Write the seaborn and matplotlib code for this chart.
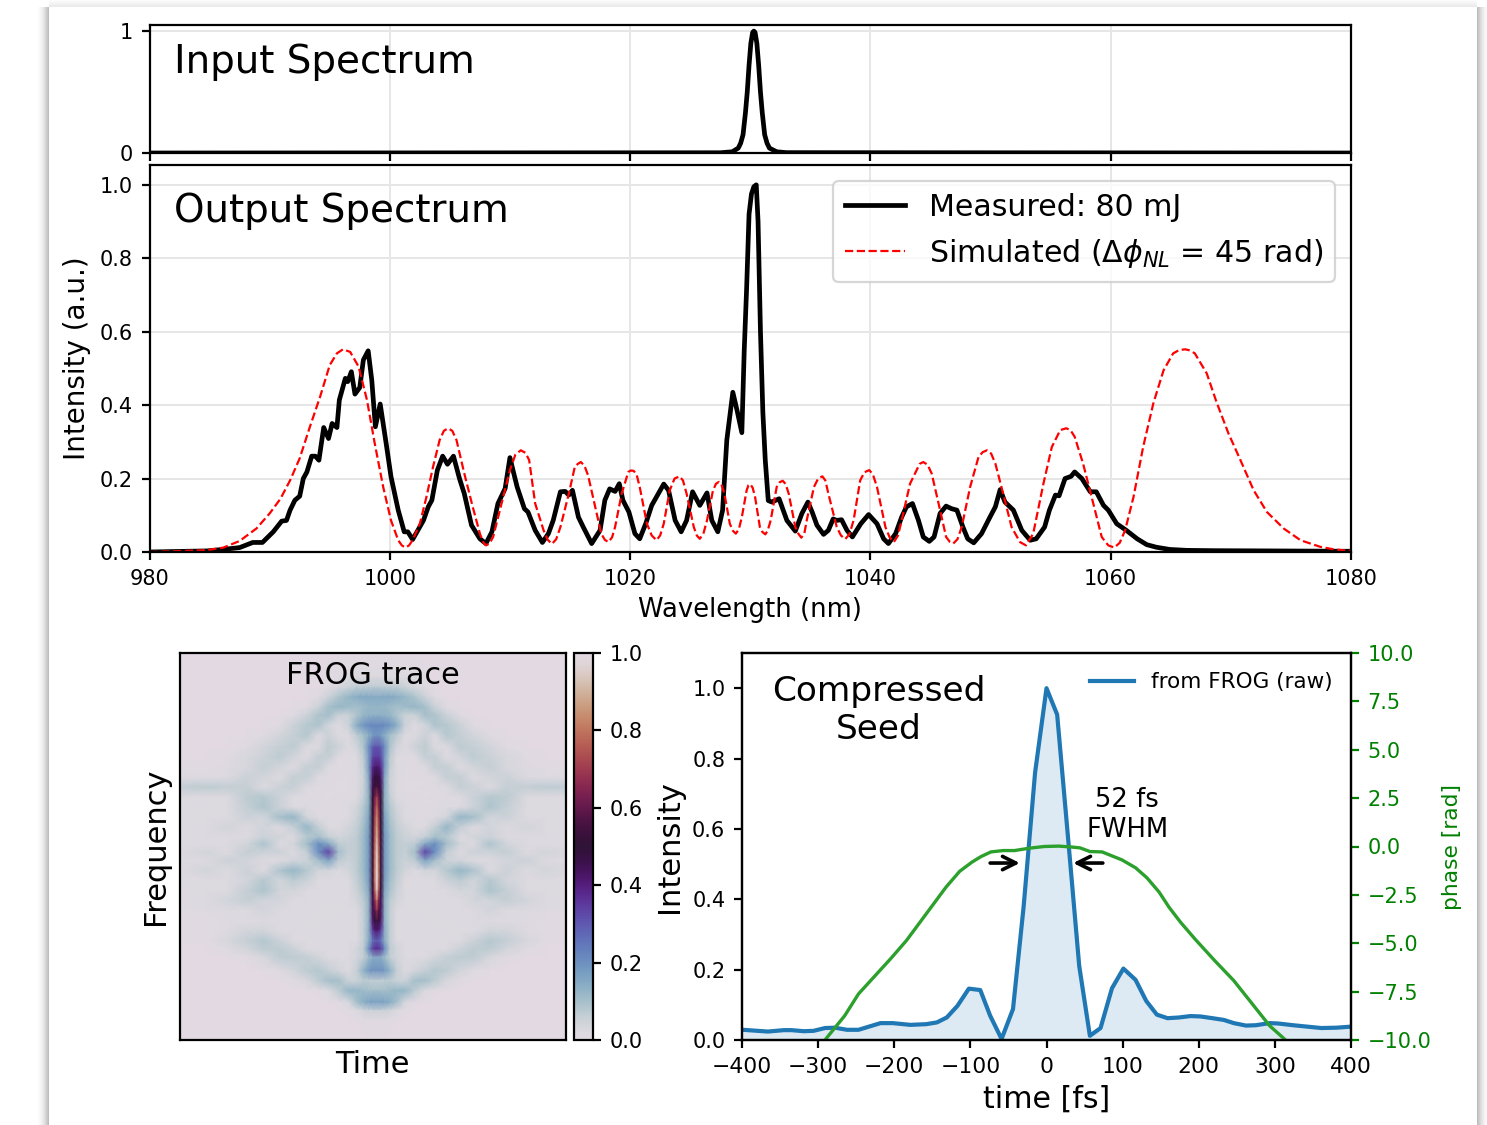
import numpy as np
import matplotlib
matplotlib.use('Agg')
import matplotlib.pyplot as plt
from matplotlib.patches import Rectangle
import seaborn as sns

W, H = 1487, 1125

input_wl = [980, 1027.5, 1028.5, 1029, 1029.2, 1029.4, 1029.6, 1029.75, 1029.9, 1030.05, 1030.2, 1030.3, 1030.4, 1030.55,
            1030.7, 1030.85, 1031, 1031.2, 1031.4, 1031.6, 1032.2, 1033, 1080]
input_int = [0, .002, .01, .04, .08, .15, .33, .5, .72, .9, .99, 1, .99, .9, .72, .5, .33, .15, .08, .04, .01, .003, 0]

meas_wl = [980, 984.8, 986.1, 987.5, 988.6, 989.4, 990.3, 991, 991.4, 991.7, 992.1, 992.5, 992.8, 993.1, 993.5, 993.8,
           994.1, 994.5, 994.9, 995.2, 995.6, 995.8, 996.3, 996.5, 996.8, 997.1, 997.5, 997.8, 998.2, 998.5, 998.8,
           999.2, 999.7, 1000.1, 1000.7, 1001.2, 1001.5, 1001.9, 1002.8, 1003.2, 1003.5, 1003.96, 1004.4, 1004.8,
           1005.3, 1005.8, 1006.2, 1006.8, 1007.5, 1008, 1008.5, 1009, 1009.6, 1010, 1010.25, 1010.6, 1011.2, 1011.5,
           1012.1, 1012.7, 1013.2, 1013.6, 1014.2, 1014.6, 1014.9, 1015.2, 1015.7, 1016.1, 1016.8, 1017.5, 1017.9,
           1018.3, 1018.75, 1019.1, 1019.4, 1019.9, 1020.4, 1020.8, 1021.3, 1021.8, 1022.2, 1022.8, 1023.2, 1023.75,
           1024.25, 1024.7, 1025.2, 1025.8, 1026.4, 1026.8, 1027.3, 1027.7, 1028.05, 1028.55, 1028.9, 1029.3, 1029.5,
           1029.7, 1029.9, 1030.1, 1030.3, 1030.5, 1030.65, 1030.85, 1031.05, 1031.25, 1031.5, 1031.8, 1032.4, 1033.05,
           1033.75, 1034.3, 1034.8, 1035.15, 1035.55, 1036.1, 1036.5, 1036.9, 1037.2, 1037.6, 1038.05, 1038.5, 1039.2,
           1039.85, 1040.55, 1041.1, 1041.5, 1042.1, 1042.6, 1043, 1043.5, 1044, 1044.4, 1044.9, 1045.3, 1045.8, 1046.3,
           1046.75, 1047.2, 1047.7, 1048.1, 1048.6, 1049.25, 1049.95, 1050.4, 1050.8, 1051.2, 1051.9, 1052.6, 1053.3,
           1053.8, 1054.5, 1054.9, 1055.4, 1055.7, 1056.2, 1056.7, 1057, 1057.6, 1058.3, 1058.8, 1059.4, 1059.8, 1060.5,
           1061.3, 1062.2, 1063, 1063.8, 1064.9, 1066.3, 1068.6, 1080]
meas_int = [0, .003, .007, .012, .026, .026, .055, .084, .086, .114, .141, .152, .2, .218, .261, .261,
            .25, .339, .309, .35, .339, .414, .473, .464, .491, .43, .448, .523, .548, .468, .341,
            .403, .295, .205, .114, .055, .055, .034, .086, .123, .141, .223, .261, .239,
            .261, .2, .159, .073, .036, .023, .055, .132, .173, .257, .223, .177, .118, .109,
            .059, .026, .05, .086, .164, .165, .155, .168, .095, .068, .023, .059, .141,
            .172, .165, .186, .141, .109, .05, .036, .077, .127, .15, .185, .168, .086,
            .055, .086, .164, .127, .161, .086, .055, .114, .305, .435, .386, .325, .55,
            .72, .92, .975, .995, 1.0, .9, .6, .38, .25, .14, .136, .145, .086,
            .057, .105, .136, .109, .073, .048, .059, .09, .086, .088, .059, .041, .077,
            .102, .077, .036, .023, .05, .095, .123, .132, .086, .041, .029, .041, .105, .125,
            .118, .114, .068, .036, .025, .05, .095, .123, .17, .136, .114, .059, .032,
            .036, .068, .114, .155, .153, .2, .206, .218, .2, .164, .164, .127, .114, .077,
            .059, .036, .02, .013, .007, .0045, .0036, .002]

sim_wl = [980, 984.76, 986.15, 987.5, 988.9, 990, 990.9, 991.7, 992.5, 993.35, 994.2, 995, 995.6, 996.1, 996.7, 997.4,
          998.1, 998.75, 999.45, 1000.1, 1000.7, 1001, 1001.3, 1001.6, 1001.9, 1002.5, 1003.05, 1003.6, 1004.15, 1004.5,
          1004.85, 1005.2, 1005.55, 1006.2, 1006.9, 1007.5, 1007.75, 1008, 1008.3, 1008.6, 1009.3, 1010, 1010.45, 1010.9,
          1011.3, 1011.6, 1012.1, 1012.8, 1013.15, 1013.5, 1013.85, 1014.2, 1014.9, 1015.4, 1015.65, 1015.9, 1016.2,
          1016.5, 1017.1, 1017.6, 1017.9, 1018.2, 1018.5, 1018.75, 1019.3, 1019.85, 1020.05, 1020.3, 1020.55, 1020.8,
          1021.4, 1021.8, 1022.2, 1022.5, 1022.8, 1023.3, 1023.7, 1024.1, 1024.4, 1024.7, 1025.3, 1025.55, 1025.8, 1026.1,
          1026.4, 1026.9, 1027.15, 1027.4, 1027.6, 1027.85, 1028.3, 1028.55, 1028.8, 1029.05, 1029.3, 1029.7, 1029.85,
          1030, 1030.2, 1030.4, 1030.8, 1031, 1031.25, 1031.45, 1031.7, 1032.2, 1032.45, 1032.7, 1032.95, 1033.2, 1033.75,
          1034, 1034.25, 1034.5, 1034.7, 1035.3, 1035.65, 1036, 1036.25, 1036.5, 1037.2, 1037.55, 1037.9, 1038.25, 1038.6,
          1039.15, 1039.5, 1039.9, 1040.2, 1040.55, 1041.25, 1041.6, 1041.95, 1042.3, 1042.6, 1043.3, 1043.85, 1044.1,
          1044.4, 1044.75, 1045.1, 1045.8, 1046.3, 1046.6, 1046.9, 1047.25, 1047.6, 1048.3, 1049, 1049.35, 1049.7, 1050.05,
          1050.4, 1051.05, 1051.75, 1052.45, 1052.95, 1053.55, 1054.4, 1055.1, 1055.8, 1056.3, 1056.65, 1057, 1057.7,
          1058.55, 1059.25, 1059.8, 1060.3, 1060.75, 1061.2, 1061.9, 1062.7, 1063.55, 1064.4, 1065.2, 1065.7, 1066.2,
          1066.6, 1067, 1068, 1068.8, 1069.8, 1070.8, 1071.9, 1073, 1074.4, 1075.8, 1077.45, 1078.6, 1080]
sim_int = [0, .005, .012, .03, .064, .105, .145, .195, .255, .341, .423, .509, .541, .552, .545, .505,
           .414, .295, .177, .086, .032, .018, .012, .018, .032, .077, .15, .232, .305, .33,
           .337, .33, .305, .214, .123, .05, .028, .018, .023, .041, .132, .223, .265, .277,
           .27, .25, .132, .059, .033, .022, .035, .068, .159, .232, .24, .245, .235,
           .209, .123, .05, .033, .027, .04, .068, .159, .218, .222, .221, .21, .177,
           .077, .045, .032, .045, .077, .168, .2, .206, .195, .159, .068, .045, .036, .05,
           .086, .168, .186, .191, .184, .159, .077, .058, .05, .062, .095, .168, .182,
           .185, .175, .15, .068, .055, .048, .058, .086, .177, .19, .194, .185, .159, .068,
           .05, .039, .05, .086, .177, .2, .206, .195, .159, .068, .045, .035, .048, .086,
           .195, .217, .223, .212, .177, .068, .04, .027, .045, .086, .186, .223, .24,
           .245, .238, .214, .114, .041, .028, .023, .035, .068, .177, .259, .272, .277, .268,
           .241, .159, .068, .027, .018, .05, .186, .286, .332, .337, .332, .314, .241,
           .132, .041, .018, .012, .025, .059, .15, .286, .405, .495, .541, .55, .552,
           .549, .541, .486, .409, .323, .25, .168, .109, .064, .032, .014, .007, .003]

seed_t = [-399, -366, -345, -335, -319, -306, -291, -278, -262, -247, -218, -202, -179, -158, -144, -131, -117, -102, -87,
          -74, -59, -44, -30, -15, 0, 14, 28.5, 43, 57, 71, 86, 101, 117, 131, 145, 159, 174, 189, 202, 218, 233, 246, 262,
          275, 293, 304, 324, 361, 381, 400]
seed_int = [.029, .024, .028, .028, .025, .026, .034, .035, .029, .029, .048, .048, .043, .045, .05, .064, .097, .146, .142,
            .069, .003, .088, .38, .76, 1.0, .925, .57, .21, .012, .034, .147, .203, .171, .111, .072, .062, .064, .068,
            .067, .062, .057, .048, .041, .042, .048, .047, .042, .034, .035, .038]

phase_t = [-291, -265, -247, -231, -205, -184, -158, -132, -114, -98, -86, -73, -57, -42, -23, -3, 16, 31, 44, 57, 73, 99,
           117, 132, 148, 161, 176, 195, 221, 246, 267, 293, 314]
phase_rad = [-10, -8.74, -7.62, -6.93, -5.81, -4.86, -3.48, -2.1, -1.28, -.81, -.52, -.28, -.21, -.21, -.09, 0, .02, -.02,
             -.07, -.26, -.28, -.69, -1.1, -1.62, -2.36, -3.14, -3.91, -4.78, -5.9, -6.93, -7.97, -9.26, -10]

# FROG trace, left half, read on a coarse grid; delay 0 is the bright column
frog_delay = [0, 6, 12, 24, 40, 60, 85, 115, 145, 175, 210, 250, 290, 340, 390, 450, 510, 590]
frog_freq = [38, 110, 140, 170, 200, 225, 255, 285, 320, 350, 380, 410, 440, 470, 500, 530, 560, 590, 610, 635, 660, 690,
             720, 750, 780, 810, 840, 870, 900, 925, 950, 990, 1020, 1050, 1085, 1110, 1140, 1198]
frog_half = [
    [0, 0, 0, 0, 0, 0, 0, 0, 0, 0, 0, 0, 0, 0, 0, 0, 0, 0],
    [.02, .02, .02, .02, .02, .02, .015, .01, 0, 0, 0, 0, 0, 0, 0, 0, 0, 0],
    [.07, .07, .07, .07, .07, .07, .05, .03, .01, 0, 0, 0, 0, 0, 0, 0, 0, 0],
    [.15, .15, .15, .15, .15, .14, .12, .09, .05, .01, 0, 0, 0, 0, 0, 0, 0, 0],
    [.12, .12, .12, .12, .11, .1, .11, .12, .1, .05, .01, 0, 0, 0, 0, 0, 0, 0],
    [.13, .13, .13, .13, .12, .09, .05, .05, .1, .09, .05, .01, 0, 0, 0, 0, 0, 0],
    [.22, .22, .22, .21, .19, .14, .05, .015, .04, .09, .08, .05, .01, 0, 0, 0, 0, 0],
    [.18, .18, .17, .14, .1, .07, .02, .02, .05, .02, .08, .06, .04, .01, 0, 0, 0, 0],
    [.31, .31, .29, .2, .09, .04, .012, .05, .07, .02, .02, .07, .06, .04, .01, 0, 0, 0],
    [.34, .34, .32, .18, .07, .02, .012, .012, .06, .06, .012, .04, .07, .05, .03, .01, 0, 0],
    [.42, .41, .38, .18, .06, .02, .012, .01, .02, .06, .06, .012, .04, .06, .03, .015, .008, .005],
    [.5, .48, .42, .15, .05, .02, .01, .012, .01, .02, .06, .06, .02, .04, .05, .02, .015, .015],
    [.56, .52, .45, .14, .05, .02, .01, .01, .012, .012, .02, .06, .05, .02, .06, .06, .07, .06],
    [.7, .62, .5, .13, .06, .02, .012, .012, .01, .012, .012, .02, .05, .08, .07, .02, .02, .02],
    [.78, .66, .5, .14, .08, .04, .02, .012, .012, .012, .02, .02, .05, .09, .06, .02, .02, .012],
    [.83, .7, .5, .16, .09, .05, .02, .012, .012, .012, .04, .12, .1, .04, .05, .02, .02, .012],
    [.87, .72, .5, .17, .1, .06, .04, .02, .02, .06, .12, .06, .02, .04, .02, .04, .02, .012],
    [.9, .74, .52, .18, .11, .07, .05, .04, .06, .1, .08, .02, .04, .05, .02, .02, .02, .02],
    [.93, .76, .52, .18, .11, .07, .06, .07, .15, .2, .1, .04, .02, .09, .04, .02, .012, .012],
    [.96, .78, .53, .18, .11, .07, .06, .1, .33, .2, .06, .02, .05, .05, .06, .02, .04, .02],
    [.97, .79, .53, .18, .11, .07, .05, .07, .16, .1, .05, .04, .02, .02, .04, .05, .02, .02],
    [.99, .8, .53, .18, .11, .07, .04, .02, .04, .04, .08, .12, .09, .02, .05, .02, .04, .012],
    [1.0, .8, .52, .17, .1, .06, .02, .012, .02, .02, .05, .07, .04, .08, .04, .02, .02, .012],
    [.95, .75, .48, .15, .09, .05, .02, .02, .012, .02, .02, .04, .04, .09, .06, .02, .02, .01],
    [.8, .65, .45, .13, .07, .04, .02, .02, .02, .012, .02, .012, .04, .04, .06, .04, .02, .01],
    [.68, .58, .44, .13, .06, .02, .012, .02, .02, .02, .012, .02, .02, .04, .02, .02, .015, .006],
    [.55, .5, .42, .13, .06, .02, .02, .012, .02, .02, .02, .012, .02, .02, .012, .015, .008, .004],
    [.42, .4, .35, .14, .06, .02, .012, .02, .012, .02, .02, .02, .012, .04, .04, .015, .006, 0],
    [.28, .27, .25, .14, .06, .02, .02, .012, .02, .012, .02, .02, .05, .08, .06, .03, .003, 0],
    [.38, .37, .34, .2, .07, .04, .02, .02, .012, .02, .02, .05, .07, .07, .04, .01, 0, 0],
    [.14, .14, .14, .11, .06, .04, .02, .02, .02, .04, .06, .07, .07, .03, .005, 0, 0, 0],
    [.2, .2, .2, .18, .13, .06, .02, .04, .06, .08, .07, .04, .01, 0, 0, 0, 0, 0],
    [.06, .06, .06, .07, .07, .05, .05, .1, .1, .07, .03, .005, 0, 0, 0, 0, 0, 0],
    [.1, .1, .1, .1, .11, .12, .12, .07, .02, .004, 0, 0, 0, 0, 0, 0, 0, 0],
    [.17, .17, .17, .16, .14, .1, .03, .005, 0, 0, 0, 0, 0, 0, 0, 0, 0, 0],
    [.05, .05, .05, .05, .04, .02, .005, 0, 0, 0, 0, 0, 0, 0, 0, 0, 0, 0],
    [.008, .008, .008, .008, .005, 0, 0, 0, 0, 0, 0, 0, 0, 0, 0, 0, 0, 0],
    [0, 0, 0, 0, 0, 0, 0, 0, 0, 0, 0, 0, 0, 0, 0, 0, 0, 0],
]

wl_ticks = [980, 1000, 1020, 1040, 1060, 1080]
int_ticks = [0, .2, .4, .6, .8, 1.0]
seed_ticks = [-400, -300, -200, -100, 0, 100, 200, 300, 400]
phase_ticks = [-10, -7.5, -5, -2.5, 0, 2.5, 5, 7.5, 10]


def box(left, top, right, bottom):
    # pixel box of the reference -> figure fraction
    return [left / W, 1 - bottom / H, (right - left) / W, (bottom - top) / H]


plt.rcParams['font.family'] = ['DejaVu Sans']
plt.rcParams['font.size'] = 7.5
plt.rcParams['mathtext.fontset'] = 'dejavusans'
plt.rcParams['xtick.major.size'] = 3
plt.rcParams['ytick.major.size'] = 3
plt.rcParams['xtick.major.pad'] = 3
plt.rcParams['ytick.major.pad'] = 3

fig = plt.figure(figsize=(W / 200, H / 200), dpi=200, facecolor='white')

# card shadow around the white page
for i in range(12):
    a = 0.04 * (1 - i / 12)
    fig.patches.append(Rectangle((49 / W - (i + 1) / W, 0), (i + 1) / W, 1 - 7 / H, transform=fig.transFigure,
                                 color='k', alpha=a, lw=0, figure=fig))
    fig.patches.append(Rectangle((1477 / W, 0), (i + 1) / W, 1 - 7 / H, transform=fig.transFigure,
                                 color='k', alpha=a, lw=0, figure=fig))
for i in range(7):
    fig.patches.append(Rectangle((49 / W, 1 - 7 / H), 1428 / W, (i + 1) / H, transform=fig.transFigure,
                                 color='k', alpha=0.012, lw=0, figure=fig))

# input spectrum
ax_in = fig.add_axes(box(149.5, 25, 1351, 153))
sns.lineplot(x=input_wl, y=input_int, ax=ax_in, color='k', lw=1.7, estimator=None, sort=False)
ax_in.set_xlim(980, 1080)
ax_in.set_ylim(0, 1.05)
ax_in.set_xticks(wl_ticks)
ax_in.set_xticklabels([])
ax_in.set_yticks([0, 1])
ax_in.grid(color='#e6e6e6', lw=.7)
ax_in.text(.02, .71, 'Input Spectrum', transform=ax_in.transAxes, fontsize=14, va='center')

# output spectrum
ax_out = fig.add_axes(box(149.5, 165, 1351, 552))
sns.lineplot(x=meas_wl, y=meas_int, ax=ax_out, color='k', lw=1.7, estimator=None, sort=False,
             label='Measured: 80 mJ')
sns.lineplot(x=sim_wl, y=sim_int, ax=ax_out, color='r', lw=.8, ls='--', estimator=None, sort=False,
             label=r'Simulated ($\Delta\phi_{NL}$ = 45 rad)')
ax_out.set_xlim(980, 1080)
ax_out.set_ylim(0, 1.054)
ax_out.set_xticks(wl_ticks)
ax_out.set_yticks(int_ticks)
ax_out.grid(color='#e6e6e6', lw=.7)
ax_out.set_xlabel('Wavelength (nm)', fontsize=9.3, labelpad=3)
ax_out.set_ylabel('Intensity (a.u.)', fontsize=10, labelpad=3)
ax_out.text(.02, .88, 'Output Spectrum', transform=ax_out.transAxes, fontsize=14, va='center')
leg = ax_out.legend(loc='upper right', fontsize=10.8, bbox_to_anchor=(.9867, .9587), borderaxespad=0)
leg.get_frame().set_linewidth(.8)

# FROG trace, delay mirrored about the bright column
ax_frog = fig.add_axes(box(179.5, 653, 566, 1040))
half = np.array(frog_half)
full = np.hstack([half[:, :0:-1], half])
delay = np.array(frog_delay)
delay_full = np.concatenate([-delay[:0:-1], delay])
mesh = ax_frog.pcolormesh(delay_full, frog_freq, full, cmap='twilight', vmin=0, vmax=1, shading='gouraud')
ax_frog.set_xlim(-592, 568)
ax_frog.set_ylim(1198, 38)
ax_frog.set_xticks([])
ax_frog.set_yticks([])
ax_frog.set_xlabel('Time', fontsize=11, labelpad=3.5)
ax_frog.set_ylabel('Frequency', fontsize=11, labelpad=3.5)
ax_frog.text(.5, .942, 'FROG trace', transform=ax_frog.transAxes, fontsize=10.9, ha='center', va='center')

cax = fig.add_axes(box(574, 653, 593, 1040))
fig.colorbar(mesh, cax=cax, ticks=int_ticks)

# compressed seed
ax_seed = fig.add_axes(box(742, 653, 1351, 1040))
sns.lineplot(x=seed_t, y=seed_int, ax=ax_seed, color='tab:blue', lw=1.5, estimator=None, sort=False,
             label='from FROG (raw)')
ax_seed.fill_between(seed_t, seed_int, 0, color='tab:blue', alpha=.15, lw=0)
ax_seed.set_xlim(-400, 400)
ax_seed.set_ylim(0, 1.1)
ax_seed.set_xticks(seed_ticks)
ax_seed.tick_params(axis='x', labelsize=7.9)
ax_seed.set_yticks(int_ticks)
ax_seed.set_xlabel('time [fs]', fontsize=10.8, labelpad=3)
ax_seed.set_ylabel('Intensity', fontsize=11, labelpad=3)
ax_seed.text(-220, .937, 'Compressed\nSeed', fontsize=12.4, ha='center', va='center', linespacing=1.2)
ax_seed.text(106, .64, '52 fs\nFWHM', fontsize=9.3, ha='center', va='center')
arrow = dict(arrowstyle='->', color='k', lw=1.3, mutation_scale=12, shrinkA=0, shrinkB=0)
ax_seed.annotate('', xy=(-35, .503), xytext=(-74, .503), arrowprops=arrow)
ax_seed.annotate('', xy=(35, .503), xytext=(74, .503), arrowprops=arrow)
ax_seed.legend(loc='upper right', fontsize=7.75, frameon=False, bbox_to_anchor=(.9836, .972), borderaxespad=0)

ax_ph = ax_seed.twinx()
sns.lineplot(x=phase_t, y=phase_rad, ax=ax_ph, color='tab:green', lw=1.2, estimator=None, sort=False, legend=False)
ax_ph.set_ylim(-10, 10)
ax_ph.set_yticks(phase_ticks)
ax_ph.tick_params(axis='y', colors='green')
ax_ph.set_ylabel('phase [rad]', fontsize=7.85, color='green', labelpad=3.8)

fig.savefig('out.png', dpi=200)
